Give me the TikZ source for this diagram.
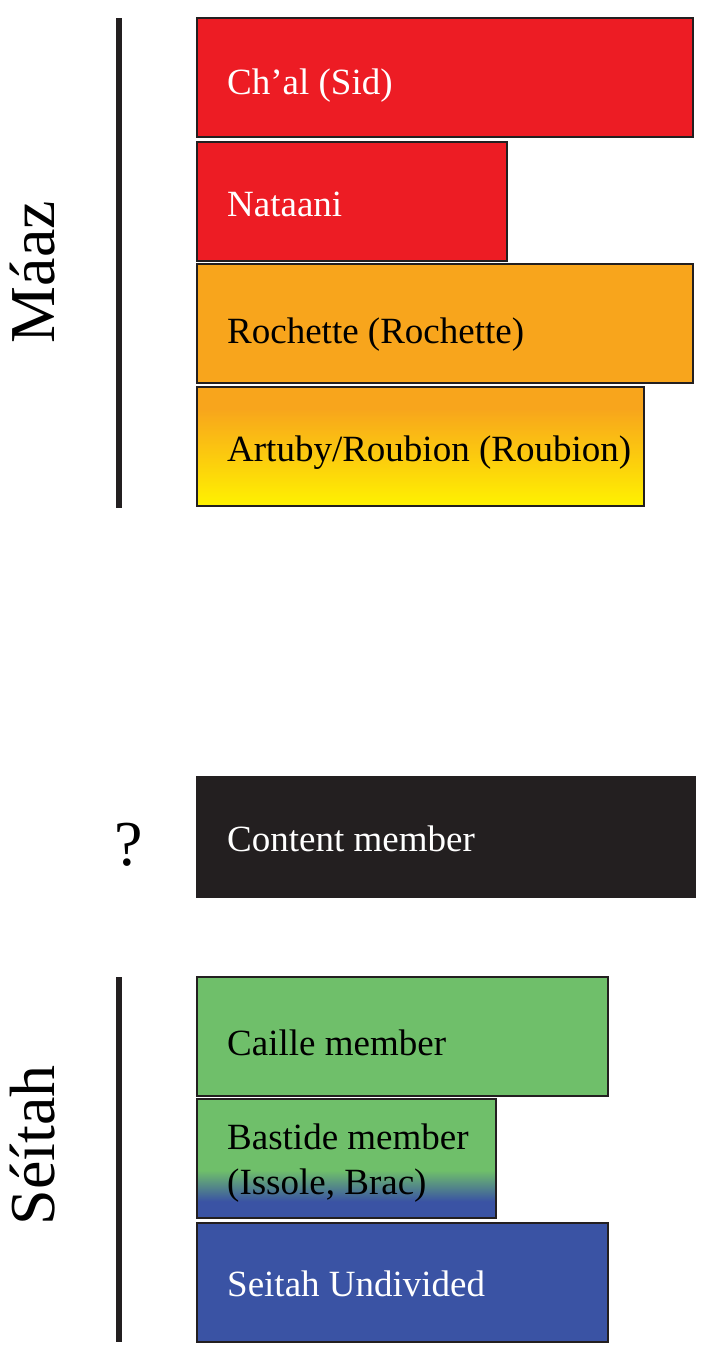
\documentclass[tikz,border=0pt]{standalone}
\usepackage{fontspec}
\setmainfont{Liberation Serif}
\definecolor{maazred}{HTML}{ED1C24}
\definecolor{maazorange}{HTML}{F8A51C}
\definecolor{maazyellow}{HTML}{FFF200}
\definecolor{inkblack}{HTML}{231F20}
\definecolor{caillegreen}{HTML}{6FBF6A}
\definecolor{seitahblue}{HTML}{3A53A4}
\pgfdeclareverticalshading{artubyshade}{100bp}{color(0bp)=(maazyellow); color(25bp)=(maazyellow); color(66bp)=(maazorange); color(100bp)=(maazorange)}
\pgfdeclareverticalshading{bastideshade}{100bp}{color(0bp)=(seitahblue); color(32bp)=(seitahblue); color(45bp)=(caillegreen); color(100bp)=(caillegreen)}
\tikzset{
  unitbox/.style={draw=inkblack, line width=1.6pt, anchor=north west, inner sep=0pt, outer sep=0pt, minimum height=119pt},
  boxtext/.style={anchor=west, inner sep=0pt, font=\fontsize{37}{44}\selectfont},
  biglabel/.style={font=\fontsize{64}{70}\selectfont, inner sep=0pt},
  bar/.style={line width=6pt, draw=inkblack}
}
\begin{document}
\begin{tikzpicture}[x=1pt,y=-1pt]
\useasboundingbox (0,0) rectangle (705,1357);
% Maaz group
\node[unitbox, fill=maazred, minimum width=496pt] (chal) at (197,18) {};
\node[unitbox, fill=maazred, minimum width=310pt] (nataani) at (197,142) {};
\node[unitbox, fill=maazorange, minimum width=496pt] (rochette) at (197,264) {};
\node[unitbox, shade, shading=artubyshade, minimum width=447pt] (artuby) at (197,387) {};
\node[boxtext, text=white] (chaltxt) at (227,86) {Ch’al (Sid)};
\node[boxtext, text=white] (nataanitxt) at (227,204) {Nataani};
\node[boxtext, text=black] (rochettetxt) at (227,335) {Rochette (Rochette)};
\node[boxtext, text=black] (artubytxt) at (227,453) {Artuby/Roubion (Roubion)};
\coordinate (maaztop) at (119,18);
\coordinate (maazbot) at (119,508);
\draw[bar] (maaztop) -- (maazbot);
\node[biglabel, rotate=90] (maaz) at (33,272) {Máaz};
% Content
\node[unitbox, fill=inkblack, draw=inkblack, minimum width=498pt, minimum height=120pt] (content) at (197,777) {};
\node[boxtext, text=white] (contenttxt) at (227,839) {Content member};
\node[biglabel] (qmark) at (129,845) {?};
% Seitah group
\node[unitbox, fill=caillegreen, minimum width=411pt] (caille) at (197,977) {};
\node[unitbox, shade, shading=bastideshade, minimum width=299pt] (bastide) at (197,1099) {};
\node[unitbox, fill=seitahblue, minimum width=411pt] (seitah) at (197,1223) {};
\node[boxtext, text=black] (cailletxt) at (227,1043) {Caille member};
\node[boxtext, text=black, align=left, font=\fontsize{37}{45}\selectfont] (bastidetxt) at (227,1163) {Bastide member\\(Issole, Brac)};
\node[boxtext, text=white] (seitahtxt) at (227,1284) {Seitah Undivided};
\coordinate (seitop) at (119,977);
\coordinate (seibot) at (119,1342);
\draw[bar] (seitop) -- (seibot);
\node[biglabel, rotate=90] (seitahlbl) at (33,1145) {Séítah};
\end{tikzpicture}
\end{document}
